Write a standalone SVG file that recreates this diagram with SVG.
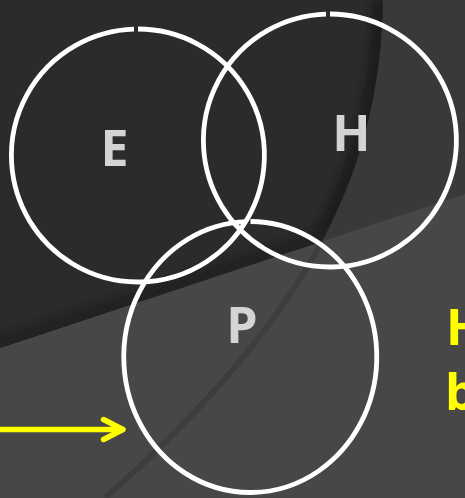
<svg xmlns="http://www.w3.org/2000/svg" width="465" height="498" viewBox="0 0 465 498">
  <style>
    .ring { fill: none; stroke: #ffffff; stroke-width: 4.8; }
    .lbl { font-family: "Open Sans", "DejaVu Sans", sans-serif; font-weight: 700; font-size: 50px; fill: #d4d4d4; text-anchor: middle; }
    .yel { font-family: "Open Sans", "DejaVu Sans", sans-serif; font-weight: 700; font-size: 50px; fill: #ffff00; }
    .arrow { fill: none; stroke: #ffff00; stroke-width: 5.5; stroke-linecap: round; stroke-linejoin: round; }
  </style>
  <defs>
    <clipPath id="clipUpper"><polygon points="0,0 465,0 465,194 0,348"/></clipPath>
    <clipPath id="clipLower"><polygon points="0,348 465,194 465,498 0,498"/></clipPath>
    <clipPath id="clipDark"><path d="M0,0 H383 C380,150 330,300 105,498 L0,498 Z"/></clipPath>
    <filter id="soft" x="-10%" y="-10%" width="120%" height="120%"><feGaussianBlur stdDeviation="3"/></filter>
  </defs>

  <g id="background">
    <rect x="0" y="0" width="465" height="498" fill="#474747"/>
    <polygon points="0,0 465,0 465,194 0,348" fill="#393939"/>
    <path d="M0,0 H383 C380,150 330,300 105,498 L0,498 Z" fill="#2b2b2b" clip-path="url(#clipUpper)"/>
    <g clip-path="url(#clipUpper)">
      <g clip-path="url(#clipDark)">
        <path d="M383,0 C380,150 330,300 105,498" fill="none" stroke="#1f1f1f" stroke-width="22" filter="url(#soft)" opacity="0.9"/>
        <path d="M0,348 L465,194" fill="none" stroke="#202020" stroke-width="24" filter="url(#soft)" opacity="0.9"/>
      </g>
    </g>
    <path d="M383,0 C380,150 330,300 105,498" fill="none" stroke="#3d3d3d" stroke-width="6" clip-path="url(#clipLower)"/>
  </g>

  <g id="node-E">
    <path class="ring" d="M138,29 A126.5,126.5 0 1 1 134,29.06"/>
    <text class="lbl" x="114.5" y="166">E</text>
  </g>
  <g id="node-H">
    <path class="ring" d="M330,14 A126.5,126.5 0 1 1 326,14.06"/>
    <text class="lbl" x="351.5" y="151">H</text>
  </g>
  <g id="node-P">
    <path class="ring" d="M250.5,221.5 A126.5,135.5 0 1 1 246.5,221.56"/>
    <text class="lbl" x="242" y="343">P</text>
  </g>

  <g id="side-text">
    <text class="yel" x="446" y="345">H</text>
    <text class="yel" x="445" y="410">b</text>
  </g>

  <g id="connectors">
    <line class="arrow" x1="-5" y1="429.5" x2="122" y2="429.5"/>
    <polyline class="arrow" points="103.5,419.5 123,429.5 103.5,439.5"/>
  </g>
</svg>
